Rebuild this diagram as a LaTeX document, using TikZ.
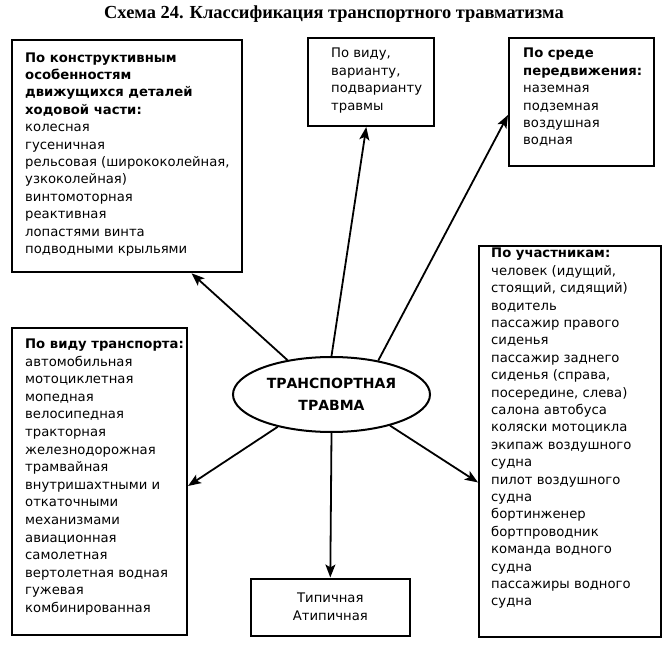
\documentclass[tikz,border=0pt]{standalone}
\usepackage{fontspec}
\setmainfont{DejaVu Sans}
\newfontfamily\titlefont{Liberation Serif}
\usetikzlibrary{arrows.meta,shapes.geometric,positioning}

\begin{document}
\begin{tikzpicture}[x=1pt,y=-1pt,
		box/.style={draw,line width=2pt,rectangle,inner sep=0pt},
		txt/.style={anchor=north west,inner sep=0pt,align=left,font=\fontsize{13.2}{17.4}\selectfont},
		arr/.style={line width=1.8pt,-{Stealth[length=13pt,width=10pt,inset=3pt]}}]
		\useasboundingbox (0,0) rectangle (665,650);
		\node[font=\titlefont\bfseries\fontsize{18.4}{22}\selectfont] (title) at (334,14) {Схема 24. Классификация транспортного травматизма};
		% boxes
		\node[box,anchor=north west,minimum width=230pt,minimum height=232pt] (k1) at (10.7,39.3) {};
		\node[txt] (k1t) at ([shift={(14.3,13)}]k1.north west) {\textbf{По конструктивным}\\\textbf{особенностям}\\\textbf{движущихся деталей}\\\textbf{ходовой части:}\\колесная\\гусеничная\\рельсовая (ширококолейная,\\узкоколейная)\\винтомоторная\\реактивная\\лопастями винта\\подводными крыльями};
		\node[box,anchor=north west,minimum width=126pt,minimum height=88pt] (k2) at (307,37) {};
		\node[txt] (k2t) at ([shift={(24,11)}]k2.north west) {По виду,\\варианту,\\подварианту\\травмы};
		\node[box,anchor=north west,minimum width=145pt,minimum height=128pt] (k3) at (508,37) {};
		\node[txt] (k3t) at ([shift={(15,11)}]k3.north west) {\textbf{По среде}\\\textbf{передвижения:}\\наземная\\подземная\\воздушная\\водная};
		\node[box,anchor=north west,minimum width=182pt,minimum height=391pt] (k4) at (478,245) {};
		\node[txt] (k4t) at ([shift={(13,3)}]k4.north west) {\textbf{По участникам:}\\человек (идущий,\\стоящий, сидящий)\\водитель\\пассажир правого\\сиденья\\пассажир заднего\\сиденья (справа,\\посередине, слева)\\салона автобуса\\коляски мотоцикла\\экипаж воздушного\\судна\\пилот воздушного\\судна\\бортинженер\\бортпроводник\\команда водного\\судна\\пассажиры водного\\судна};
		\node[box,anchor=north west,minimum width=175.3pt,minimum height=307.3pt] (k5) at (10.7,326.7) {};
		\node[txt,font=\fontsize{13.2}{17.6}\selectfont] (k5t) at ([shift={(14.3,12)}]k5.north west) {\textbf{По виду транспорта:}\\автомобильная\\мотоциклетная\\мопедная\\велосипедная\\тракторная\\железнодорожная\\трамвайная\\внутришахтными и\\откаточными\\механизмами\\авиационная\\самолетная\\вертолетная водная\\гужевая\\комбинированная};
		\node[box,minimum width=159.3pt,minimum height=57pt,align=center,font=\fontsize{13.2}{18}\selectfont] (k6) at (330.3,607) {Типичная\\Атипичная};
		% center
		\node[draw,ellipse,line width=2pt,minimum width=197pt,minimum height=75pt,inner sep=0pt,align=center,font=\bfseries\fontsize{14}{22}\selectfont] (tt) at (331.5,394.5) {ТРАНСПОРТНАЯ\\ТРАВМА};
		% arrows
		\draw[arr] (tt.142) -- (k1.-61);
		\draw[arr] (tt.north) -- (k2.-96);
		\draw[arr] (tt.36) -- (k3.190);
		\draw[arr] (tt.211) -- (k5.-3);
		\draw[arr] (tt.332) -- (k4.204);
		\draw[arr] (tt.south) -- (k6.north);
	\end{tikzpicture}
\end{document}
